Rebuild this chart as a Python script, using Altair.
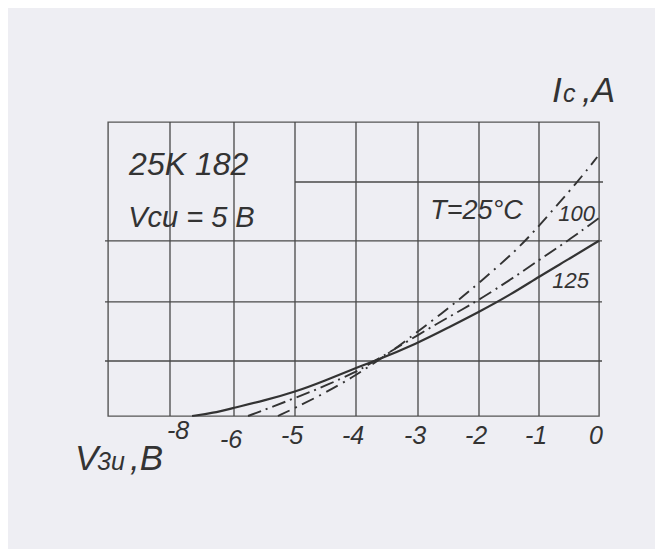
import altair as alt
import pandas as pd

# ---- data ----
GRID_V = [-10, -8, -6, -5, -4, -3, -2, -1, 0]       # vertical grid (volts, non-uniform axis)
TICK_V = [-8, -6, -5, -4, -3, -2, -1, 0]
GRID_I = [0.935, 1.94, 2.98]                          # horizontal grid lines (Ic units)
PART_I = [3.98]                                       # partial grid line (right part only)

V_125 = [-7.31, -6.66, -6.0, -5.51, -5.0, -4.51, -4.0, -3.73, -3.0, -2.51, -2.0, -1.48, -1.0, -0.5, 0.0]
I_125 = [0.0, 0.05, 0.14, 0.26, 0.41, 0.60, 0.82, 0.92, 1.24, 1.50, 1.77, 2.06, 2.37, 2.67, 2.98]

V_100 = [-5.77, -5.38, -5.0, -4.51, -4.0, -3.73, -3.40, -3.0, -2.64, -2.26, -1.98, -1.48, -1.0, -0.5, 0.0]
I_100 = [0.0, 0.153, 0.306, 0.510, 0.748, 0.918, 1.122, 1.378, 1.599, 1.820, 1.990, 2.313, 2.653, 2.993, 3.367]

V_25 = [-5.28, -5.0, -4.51, -4.05, -3.73, -3.37, -2.97, -2.43, -1.98, -1.37, -1.0, -0.33, -0.03]
I_25 = [0.0, 0.136, 0.391, 0.663, 0.884, 1.139, 1.463, 1.888, 2.279, 2.823, 3.231, 4.014, 4.405]

# ---- layout ----
W, H = 491, 294
X_RANGE = [0, 62, 126, 187, 248, 310, 371, 431, 491]
FONT = "Liberation Sans"
INK = "#333333"
GRID = "#484848"
BG = "#eeeef3"

xs = alt.Scale(domain=GRID_V, range=X_RANGE)
ys = alt.Scale(domain=[0, 5], nice=False, zero=False)


def X(field=None, **kw):
    if field is None:
        return alt.X(scale=xs, axis=None, type="quantitative", **kw)
    return alt.X(field, type="quantitative", scale=xs, axis=None)


def Y(field=None, **kw):
    if field is None:
        return alt.Y(scale=ys, axis=None, type="quantitative", **kw)
    return alt.Y(field, type="quantitative", scale=ys, axis=None)


vgrid = alt.Chart(pd.DataFrame({"v": GRID_V[1:-1]})).mark_rule(color=GRID, strokeWidth=1.3).encode(
    x=X("v"), y=alt.value(0), y2=alt.value(H))
hgrid = alt.Chart(pd.DataFrame({"i": GRID_I})).mark_rule(color=GRID, strokeWidth=1.3).encode(
    y=Y("i"), x=alt.value(-3), x2=alt.value(W + 3))
pgrid = alt.Chart(pd.DataFrame({"i": PART_I})).mark_rule(color=GRID, strokeWidth=1.3).encode(
    y=Y("i"), x=X(datum=-5), x2=alt.value(W + 4))


def curve(v, i, dash=None, sw=1.9):
    props = dict(color=INK, strokeWidth=sw, interpolate="basis")
    if dash:
        props["strokeDash"] = dash
    return alt.Chart(pd.DataFrame({"v": v, "i": i})).mark_line(**props).encode(
        x=X("v"), y=Y("i"), order="v:Q")


c125 = curve(V_125, I_125, sw=2.2)
c100 = curve(V_100, I_100, dash=[14, 5, 2, 5])
c25 = curve(V_25, I_25, dash=[13, 6, 2, 6])

lab_df = pd.DataFrame({"v": TICK_V, "lab": [str(t) for t in TICK_V]})


def ticks(sel, dy, dx):
    return alt.Chart(lab_df[sel]).mark_text(
        font=FONT, fontSize=25, fontStyle="italic", color=INK, align="center", baseline="alphabetic", dx=dx
    ).encode(x=X("v"), y=alt.value(H + dy), text="lab:N")


tick_main = ticks(~lab_df.v.isin([-8, -6]), 28, -3)
tick_six = ticks(lab_df.v == -6, 32, -3)
tick_eight = ticks(lab_df.v == -8, 23, 8)


def note(txt, v, i, size, align="left"):
    return alt.Chart().mark_text(
        text=txt, font=FONT, fontSize=size, fontStyle="italic", color=INK, align=align, baseline="alphabetic"
    ).encode(x=X(datum=v), y=Y(datum=i))


def pnote(txt, px, py, size):
    return alt.Chart().mark_text(
        text=txt, font=FONT, fontSize=size, fontStyle="italic", color=INK, align="left", baseline="alphabetic"
    ).encode(x=alt.value(px), y=alt.value(py))


notes = [
    note("25K 182", -9.32, 4.10, 32),
    note("Vcu = 5 B", -9.35, 3.22, 29),
    note("T=25°C", -2.80, 3.345, 27),
    note("100", -0.68, 3.32, 22),
    note("125", -0.78, 2.18, 22),
    pnote("I", 444, -20, 35),
    pnote("c", 455, -20, 25),
    pnote(",A", 474, -20, 35),
    pnote("V", -33, 348, 35),
    pnote("3u", -11, 348, 25),
    pnote(",B", 22, 348, 35),
]

chart = alt.layer(vgrid, hgrid, pgrid, c125, c100, c25, tick_main, tick_six, tick_eight, *notes).properties(
    width=W, height=H,
    autosize="none",
    padding={"left": 100, "top": 114, "right": 56, "bottom": 133},
    background=BG,
).configure_view(stroke="#555555", strokeWidth=1.4)

chart.save("out.html", embed_options={"renderer": "svg", "actions": False})
